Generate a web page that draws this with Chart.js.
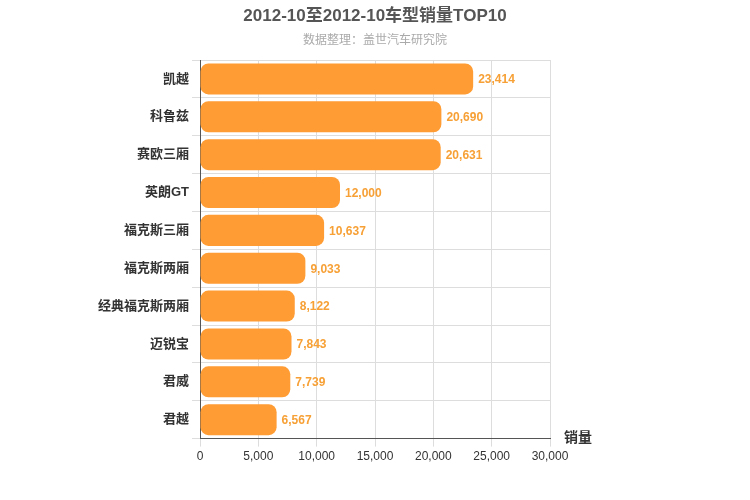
<!DOCTYPE html>
<html><head><meta charset="utf-8">
<script src="https://cdn.jsdelivr.net/npm/chart.js@4"></script>
<style>body{margin:0;background:#fff}#w{width:750px;height:500px}</style>
</head><body><div id="w"><canvas id="c"></canvas></div>
<script>
const categories=["凯越","科鲁兹","赛欧三厢","英朗GT","福克斯三厢","福克斯两厢","经典福克斯两厢","迈锐宝","君威","君越"];
const sales=[23414,20690,20631,12000,10637,9033,8122,7843,7739,6567];
const xTicks=[0,5000,10000,15000,20000,25000,30000];
const F="'Helvetica','Liberation Sans','Noto Sans CJK SC',sans-serif";
const labels={id:'lbl',afterDatasetsDraw(ch){const c=ch.ctx;const m=ch.getDatasetMeta(0);c.save();c.font="bold 12px "+F;c.fillStyle="#f7a035";c.textBaseline='middle';
m.data.forEach((b,i)=>{c.fillText(sales[i].toLocaleString('en-US'),b.x+5,b.y+1);});
const a=ch.chartArea;c.font="bold 14px "+F;c.fillStyle="#333";c.fillText("销量",a.right+14,a.bottom);
c.textAlign='center';c.font="bold 17px "+F;c.fillStyle="#555";c.fillText("2012-10至2012-10车型销量TOP10",375,16);
c.font="12px "+F;c.fillStyle="#aaa";c.fillText("数据整理：盖世汽车研究院",375,41);c.restore();}};
new Chart(document.getElementById('c'),{type:'bar',data:{labels:categories,datasets:[{data:sales,backgroundColor:'#ff9c33',borderRadius:8,borderSkipped:false,barPercentage:0.82,categoryPercentage:1}]},
plugins:[labels],
options:{indexAxis:'y',responsive:true,maintainAspectRatio:false,animation:false,
layout:{padding:{top:60,right:200,bottom:33,left:0}},
plugins:{legend:{display:false},tooltip:{enabled:false}},
scales:{x:{min:0,max:30000,afterBuildTicks(s){s.ticks=xTicks.map(v=>({value:v}));},
ticks:{color:'#333',font:{size:12,family:F},callback:v=>v.toLocaleString('en-US')},
grid:{color:'#ddd',drawTicks:true,tickColor:'#ddd'},border:{color:'#555'}},
y:{afterFit(s){s.width=200;},ticks:{color:'#333',font:{size:13,weight:'bold',family:F}},grid:{color:'#ddd',offset:true},border:{color:'#555'}}}}});
</script></body></html>
